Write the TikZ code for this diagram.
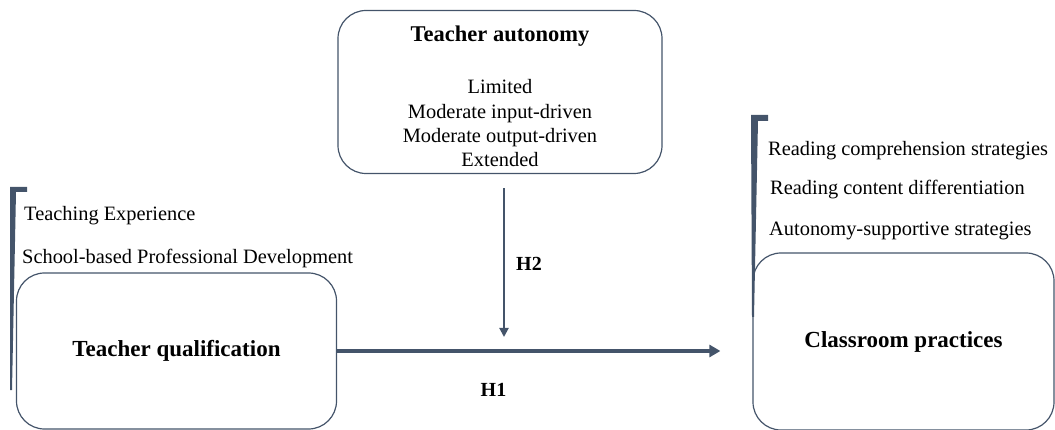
\documentclass[tikz,border=0pt]{standalone}
\usepackage{fontspec}
\setmainfont{Liberation Serif}
\usetikzlibrary{arrows.meta}
\definecolor{slate}{HTML}{44546A}

\begin{document}
\begin{tikzpicture}[x=1pt,y=-1pt,
  font=\fontsize{20.4}{24.3}\selectfont,
  box/.style={shape=rectangle,rounded corners=28pt,draw=slate,line width=1.2pt,inner sep=0pt},
  item/.style={anchor=west,inner sep=0pt},
  hyp/.style={inner sep=0pt,font=\fontsize{20}{24}\selectfont\bfseries},
  bracket/.style={fill=slate,draw=none}]
\useasboundingbox (0,0) rectangle (1055,430);
%boxes
\path (500,92) node (autonomy) [box,minimum width=324pt,minimum height=163pt,align=center]
  {\rule{0pt}{25pt}\textbf{\fontsize{22.5}{24.3}\selectfont Teacher autonomy}\\[27.7pt]
   Limited\\ Moderate input-driven\\ Moderate output-driven\\ Extended};
\path (176.5,351) node (qual) [box,minimum width=320pt,minimum height=156pt,font=\fontsize{23}{26}\selectfont\bfseries] {Teacher qualification};
\path (903.5,341.5) node (practice) [box,minimum width=301pt,minimum height=177pt,font=\fontsize{23}{26}\selectfont\bfseries] {Classroom practices};

%brackets
\fill [bracket] (10,187) -- (27,187) -- (27,192) -- (16,192) -- (12,390) -- (10,390) -- cycle;
\fill [bracket] (751,115) -- (768,115) -- (768,121) -- (758,121) -- (754,317) -- (752,317) -- cycle;

\path (24,216) node (experience) [item] {Teaching Experience};
\path (22,258) node (development) [item] {School-based Professional Development};
\path (768,151) node (comprehension) [item] {Reading comprehension strategies};
\path (770,190) node (differentiation) [item] {Reading content differentiation};
\path (769,231) node (supportive) [item] {Autonomy-supportive strategies};

%hypotheses
\coordinate (h2end) at (504,337);
\draw [-{Triangle[length=9pt,width=9pt]},draw=slate,fill=slate,line width=2pt,shorten <=14pt] (autonomy.south -| h2end) -- (h2end);
\draw [-{Triangle[length=11pt,width=12pt]},draw=slate,fill=slate,line width=4pt,shorten >=32pt] (qual.east) -- (qual.east -| practice.west);
\path (516,264) node (htwo) [hyp,anchor=west] {H2};
\path (493.5,390) node (hone) [hyp] {H1};
\end{tikzpicture}
\end{document}
